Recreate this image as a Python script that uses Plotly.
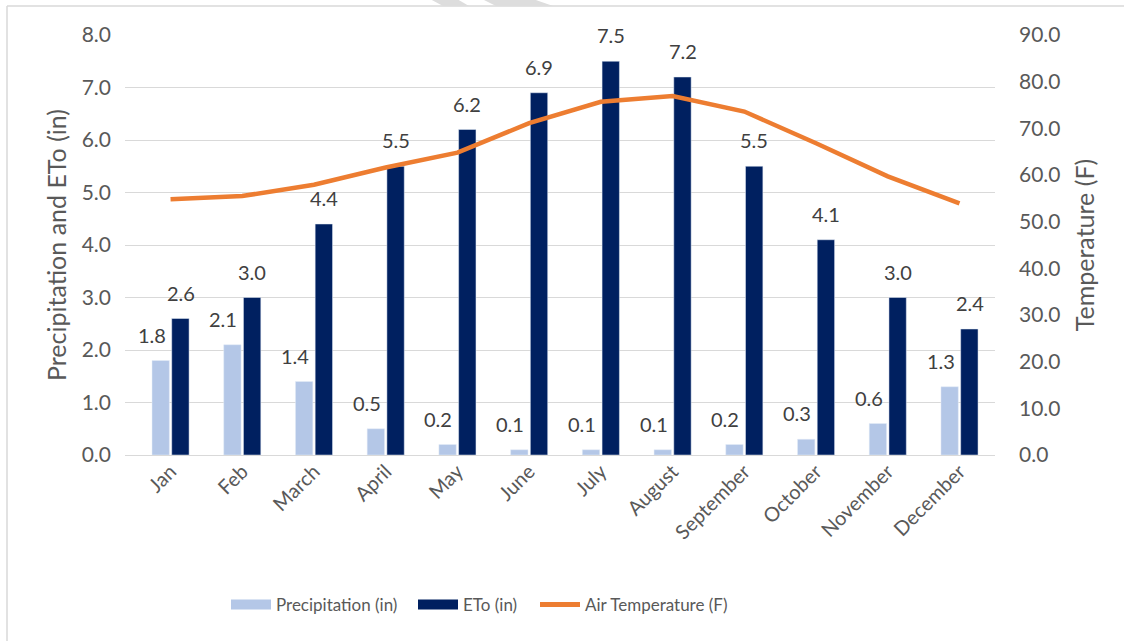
import plotly.graph_objects as go

# Monthly climate summary
months = ["Jan", "Feb", "March", "April", "May", "June", "July", "August",
          "September", "October", "November", "December"]
precip_in = [1.8, 2.1, 1.4, 0.5, 0.2, 0.1, 0.1, 0.1, 0.2, 0.3, 0.6, 1.3]
eto_in = [2.6, 3.0, 4.4, 5.5, 6.2, 6.9, 7.5, 7.2, 5.5, 4.1, 3.0, 2.4]
air_temp_f = [54.8, 55.5, 57.9, 61.6, 64.8, 71.1, 75.7, 76.9, 73.6, 66.8, 59.7, 53.9]

left_ticks = [0, 1, 2, 3, 4, 5, 6, 7, 8]
right_ticks = [0, 10, 20, 30, 40, 50, 60, 70, 80, 90]

W, H = 1124, 641
ML, MR, MT, MB = 125, 129, 35, 186
PW, PH = W - ML - MR, H - MT - MB

FONT = "Lato, Carlito, Calibri, sans-serif"
TICK_COLOR = "#595959"
LABEL_COLOR = "#404040"
GRID = "#D9D9D9"

PRECIP_COLOR = "#B4C7E7"
ETO_COLOR = "#002060"
TEMP_COLOR = "#ED7D31"


def px_to_paper(px, py):
    return (px - ML) / PW, (H - MB - py) / PH


fig = go.Figure()

fig.add_trace(go.Bar(x=months, y=precip_in, name="Precipitation (in)",
                     marker=dict(color=PRECIP_COLOR), showlegend=False))
fig.add_trace(go.Bar(x=months, y=eto_in, name="ETo (in)",
                     marker=dict(color=ETO_COLOR), showlegend=False))
fig.add_trace(go.Scatter(x=months, y=air_temp_f, name="Air Temperature (F)", yaxis="y2",
                         mode="lines", line=dict(color=TEMP_COLOR, width=4.5),
                         showlegend=False))

# legend entries with wide swatches, one legend box per entry
legend_entries = [("Precipitation (in)", PRECIP_COLOR, 10, "legend", 226),
                  ("ETo (in)", ETO_COLOR, 10, "legend2", 413),
                  ("Air Temperature (F)", TEMP_COLOR, 5, "legend3", 535)]
legend_layout = {}
for name, color, width, key, left_px in legend_entries:
    fig.add_trace(go.Scatter(x=[None], y=[None], mode="lines", name=name,
                             line=dict(color=color, width=width),
                             showlegend=True, legend=key))
    legend_layout[key] = dict(orientation="h", x=(left_px - ML) / PW, xanchor="left",
                              y=(H - MB - 605) / PH, yanchor="middle",
                              font=dict(size=17, color=TICK_COLOR), itemwidth=40,
                              bgcolor="rgba(0,0,0,0)")

# value labels above the bars
annotations = []
for m, v in zip(months, precip_in):
    annotations.append(dict(x=m, y=v, xref="x", yref="y", text=f"{v:.1f}",
                            showarrow=False, xshift=-19, yshift=12, yanchor="bottom",
                            font=dict(size=20, color=LABEL_COLOR, family=FONT)))
for m, v in zip(months, eto_in):
    annotations.append(dict(x=m, y=v, xref="x", yref="y", text=f"{v:.1f}",
                            showarrow=False, xshift=10, yshift=12, yanchor="bottom",
                            font=dict(size=20, color=LABEL_COLOR, family=FONT)))

# chart frame (top and left edges) and faint dashed watermark strokes
shapes = []
x0, y0 = px_to_paper(7, 6)
x1, _ = px_to_paper(W, 6)
_, y1 = px_to_paper(7, H)
shapes.append(dict(type="line", xref="paper", yref="paper", x0=x0, y0=y0, x1=x1, y1=y0,
                   line=dict(color="#D9D9D9", width=1.5)))
shapes.append(dict(type="line", xref="paper", yref="paper", x0=x0, y0=y0, x1=x0, y1=y1,
                   line=dict(color="#D9D9D9", width=1.5)))
for poly in [[(430, -1), (457, -1), (469, 6), (443, 6)],
             [(482, -1), (533, -1), (553, 6), (496, 6)]]:
    pts = [px_to_paper(a, b) for a, b in poly]
    path = "M " + " L ".join(f"{a:.5f},{b:.5f}" for a, b in pts) + " Z"
    shapes.append(dict(type="path", xref="paper", yref="paper", path=path,
                       fillcolor="#DDDDDD", line=dict(width=0)))

fig.update_layout(
    width=W, height=H,
    margin=dict(l=ML, r=MR, t=MT, b=MB),
    paper_bgcolor="white", plot_bgcolor="white",
    font=dict(family=FONT, size=18, color=TICK_COLOR),
    barmode="group", bargap=0.45, bargroupgap=0.12,
    showlegend=True,
    xaxis=dict(range=[-0.635, 11.495], tickangle=-45, showgrid=False,
               showline=False, ticks="", tickfont=dict(size=20, color=TICK_COLOR)),
    yaxis=dict(range=[0, 8], tickvals=left_ticks, tickformat=".1f",
               showgrid=True, gridcolor=GRID, gridwidth=1.2,
               zeroline=True, zerolinecolor=GRID, zerolinewidth=1.2,
               ticks="", ticklabelstandoff=13,
               tickfont=dict(size=21, color=TICK_COLOR),
               title=dict(text="Precipitation and ETo (in)", standoff=7,
                          font=dict(size=25, color=TICK_COLOR))),
    yaxis2=dict(range=[0, 90], tickvals=right_ticks, tickformat=".1f",
                overlaying="y", side="right", showgrid=False, zeroline=False,
                ticks="", ticklabelstandoff=23,
                tickfont=dict(size=21, color=TICK_COLOR),
                title=dict(text="Temperature (F)", standoff=16,
                           font=dict(size=25, color=TICK_COLOR))),
    shapes=shapes,
    annotations=annotations,
    **legend_layout,
)

fig.write_html("out.html")
